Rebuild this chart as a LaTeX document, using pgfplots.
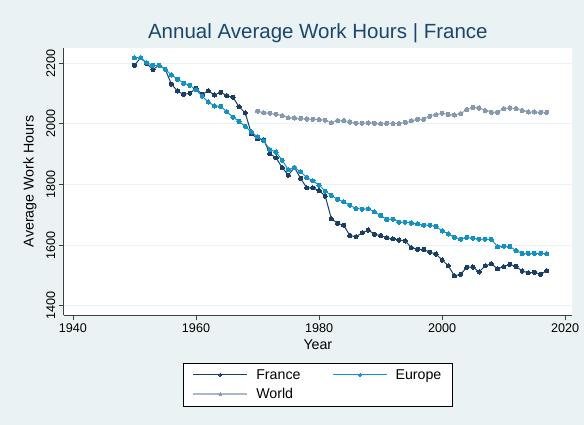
\documentclass[border=0pt]{standalone}
\usepackage{fontspec}
\setmainfont{Liberation Sans}
\usepackage{pgfplots}
\pgfplotsset{compat=1.18}
\definecolor{bgc}{HTML}{EAF2F3}
\definecolor{gridc}{HTML}{EAF2F3}
\definecolor{titlec}{HTML}{1A476F}
\definecolor{fr}{HTML}{1B3E66}
\definecolor{eu}{HTML}{1590C5}
\definecolor{wl}{HTML}{A9B8C8}
\definecolor{wm}{HTML}{8799B1}

\pgfplotstableread{
year val
1950 2193
1951 2218
1952 2198
1953 2179
1954 2193
1955 2180
1956 2131
1957 2108
1958 2097
1959 2101
1960 2117
1961 2097
1962 2109
1963 2095
1964 2104
1965 2093
1966 2088
1967 2056
1968 2036
1969 1968
1970 1951
1971 1948
1972 1902
1973 1888
1974 1856
1975 1831
1976 1856
1977 1820
1978 1789
1979 1789
1980 1780
1981 1762
1982 1687
1983 1672
1984 1666
1985 1632
1986 1628
1987 1641
1988 1650
1989 1636
1990 1632
1991 1625
1992 1621
1993 1617
1994 1614
1995 1592
1996 1587
1997 1586
1998 1577
1999 1571
2000 1551
2001 1532
2002 1499
2003 1504
2004 1527
2005 1528
2006 1512
2007 1532
2008 1539
2009 1522
2010 1529
2011 1537
2012 1530
2013 1515
2014 1509
2015 1511
2016 1504
2017 1516
}\france

\pgfplotstableread{
year val
1950 2218
1951 2218
1952 2201
1953 2193
1954 2193
1955 2180
1956 2161
1957 2147
1958 2134
1959 2127
1960 2112
1961 2091
1962 2072
1963 2059
1964 2058
1965 2040
1966 2022
1967 2008
1968 1992
1969 1973
1970 1957
1971 1944
1972 1915
1973 1907
1974 1880
1975 1849
1976 1856
1977 1842
1978 1823
1979 1812
1980 1798
1981 1778
1982 1764
1983 1751
1984 1743
1985 1732
1986 1721
1987 1719
1988 1720
1989 1710
1990 1698
1991 1685
1992 1686
1993 1676
1994 1676
1995 1673
1996 1671
1997 1666
1998 1666
1999 1662
2000 1647
2001 1637
2002 1626
2003 1620
2004 1626
2005 1623
2006 1620
2007 1620
2008 1619
2009 1595
2010 1597
2011 1596
2012 1582
2013 1573
2014 1573
2015 1573
2016 1573
2017 1572
}\europe

\pgfplotstableread{
year val
1970 2042
1971 2037
1972 2035
1973 2032
1974 2027
1975 2020
1976 2019
1977 2018
1978 2016
1979 2015
1980 2014
1981 2012
1982 2004
1983 2011
1984 2011
1985 2006
1986 2002
1987 2002
1988 2003
1989 2002
1990 2001
1991 2002
1992 2001
1993 2001
1994 2005
1995 2010
1996 2015
1997 2015
1998 2025
1999 2030
2000 2035
2001 2031
2002 2029
2003 2034
2004 2047
2005 2054
2006 2052
2007 2044
2008 2038
2009 2038
2010 2050
2011 2052
2012 2050
2013 2044
2014 2039
2015 2039
2016 2038
2017 2038
}\world

\begin{document}
\begin{tikzpicture}
\fill[bgc] (0pt,0pt) rectangle (584pt,425pt);
\useasboundingbox (0pt,0pt) rectangle (584pt,425pt);
\begin{axis}[
  at={(63.7pt,110pt)}, anchor=south west,
  scale only axis, width=508.3pt, height=267pt,
  xmin=1938.5, xmax=2021.1, ymin=1370, ymax=2250,
  xtick={1940,1960,1980,2000,2020},
  ytick={1400,1600,1800,2000,2200},
  /pgf/number format/1000 sep={},
  /pgf/number format/assume math mode=true,
  axis background/.style={fill=white},
  axis x line*=bottom, axis y line*=left,
  axis line style={-, black!75, line width=0.8pt},
  tick style={black!75, line width=0.8pt},
  tick align=outside, major tick length=5pt,
  ymajorgrids, grid style={gridc, line width=1pt},
  ticklabel style={font=\fontsize{12.6}{15}\selectfont},
  yticklabel style={rotate=90, anchor=south},
  label style={font=\fontsize{14.2}{17}\selectfont},
  xlabel={Year},
  xlabel style={at={(axis description cs:0.5,-0.112)}, anchor=center},
  ylabel={Average Work Hours},
  ylabel style={at={(axis description cs:-0.0663,0.5)}, anchor=center},
  title={Annual Average Work Hours | France},
  title style={font=\fontsize{20.5}{24}\selectfont, text=titlec, at={(0.5,1)}, anchor=base, yshift=3pt},
  legend columns=2,
  legend cell align=left,
  legend image code/.code={%
    \draw[#1, mark=none] (0pt,0pt) -- (54pt,0pt);
    \draw[#1, mark size=1.5pt] plot[only marks] coordinates {(27pt,0pt)};},
  legend style={at={(0.5,-0.18)}, anchor=north, draw=black, fill=white,
    font=\fontsize{14.2}{17}\selectfont, inner xsep=9pt, inner ysep=4pt, row sep=4pt,
    /tikz/every odd column/.append style={column sep=6pt},
    /tikz/every even column/.append style={column sep=30pt}},
]
\addplot[fr, line width=1pt, mark=*, mark size=2.1pt, mark options={fill=fr, draw=fr, line width=0pt},
  legend image post style={line width=1.1pt}] table[x=year,y=val] {\france};
\addlegendentry{France}
\addplot[eu, line width=1pt, mark=*, mark size=2.1pt, mark options={fill=eu, draw=eu, line width=0pt},
  legend image post style={line width=1.1pt}] table[x=year,y=val] {\europe};
\addlegendentry{Europe}
\addplot[wl, line width=1.3pt, mark=*, mark size=2.1pt, mark options={fill=wm, draw=wm, line width=0pt},
  legend image post style={line width=2pt}] table[x=year,y=val] {\world};
\addlegendentry{World}
\end{axis}
\end{tikzpicture}
\end{document}
